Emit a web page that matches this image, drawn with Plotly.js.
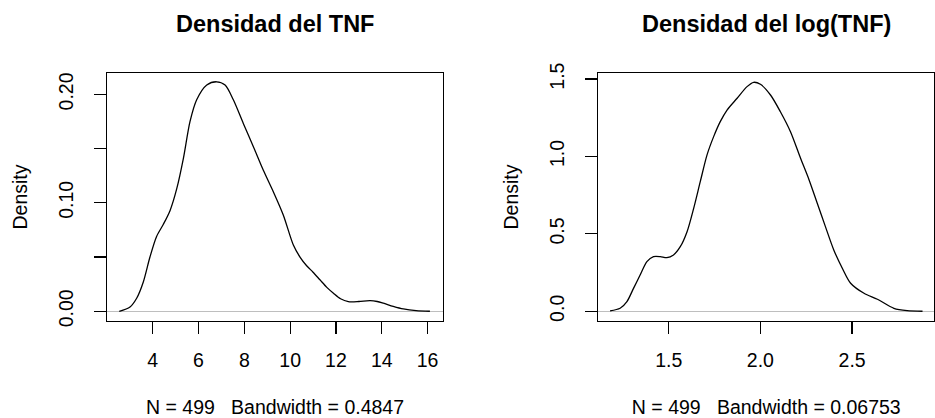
<!DOCTYPE html>
<html>
<head>
<meta charset="utf-8">
<script src="https://cdn.plot.ly/plotly-3.0.1.min.js"></script>
<style>html,body{margin:0;padding:0;background:#fff;}#chart{width:935px;height:418px;}</style>
</head>
<body>
<div id="chart"></div>
<script>
// Panel 1: density of TNF
const tnfX = [2.54, 3.01, 3.30, 3.59, 3.88, 4.17, 4.46, 4.76, 5.05, 5.34, 5.63, 5.92, 6.36, 6.79, 7.16, 7.52, 7.96, 8.39, 8.83, 9.27, 9.70, 10.14, 10.43, 10.72, 11.00, 11.30, 11.60, 11.89, 12.20, 12.54, 13.00, 13.49, 13.80, 14.07, 14.50, 14.94, 15.50, 16.10];
const tnfY = [0.000, 0.004, 0.012, 0.027, 0.050, 0.069, 0.080, 0.093, 0.113, 0.141, 0.175, 0.195, 0.2086, 0.2116, 0.2086, 0.195, 0.173, 0.152, 0.130, 0.110, 0.0888, 0.0611, 0.050, 0.042, 0.036, 0.029, 0.022, 0.0166, 0.0115, 0.0089, 0.0090, 0.0098, 0.0090, 0.0074, 0.0045, 0.0021, 0.0005, 0.000];

// Panel 2: density of log(TNF)
const logX = [1.180, 1.235, 1.272, 1.308, 1.344, 1.381, 1.417, 1.454, 1.490, 1.526, 1.563, 1.600, 1.636, 1.672, 1.709, 1.745, 1.781, 1.818, 1.873, 1.927, 1.963, 2.000, 2.055, 2.109, 2.164, 2.219, 2.265, 2.310, 2.355, 2.400, 2.450, 2.492, 2.565, 2.638, 2.728, 2.800, 2.884];
const logY = [0.002, 0.019, 0.062, 0.148, 0.234, 0.321, 0.353, 0.353, 0.346, 0.364, 0.417, 0.514, 0.665, 0.837, 1.010, 1.128, 1.225, 1.300, 1.376, 1.451, 1.479, 1.466, 1.397, 1.289, 1.160, 0.988, 0.850, 0.698, 0.545, 0.396, 0.270, 0.181, 0.116, 0.0775, 0.019, 0.004, 0.000];

// Ticks and labels
const x1Ticks = [4, 6, 8, 10, 12, 14, 16];
const x1Labels = ["4", "6", "8", "10", "12", "14", "16"];
const y1Ticks = [0, 0.05, 0.10, 0.15, 0.20];
const y1Labels = ["0.00", "", "0.10", "", "0.20"];
const x2Ticks = [1.5, 2.0, 2.5];
const x2Labels = ["1.5", "2.0", "2.5"];
const y2Ticks = [0, 0.5, 1.0, 1.5];
const y2Labels = ["0.0", "0.5", "1.0", "1.5"];

const titles = ["Densidad del TNF", "Densidad del log(TNF)"];
const subs = ["N = 499\u00a0\u00a0\u00a0Bandwidth = 0.4847", "N = 499\u00a0\u00a0\u00a0Bandwidth = 0.06753"];
const yLabel = "Density";

const FONT = "Liberation Sans, Arial, Helvetica, sans-serif";
const fs = 19.5;

const traces = [
  {x: tnfX, y: tnfY, type: "scatter", mode: "lines", xaxis: "x", yaxis: "y",
   line: {color: "#000", width: 1.3, shape: "spline", smoothing: 0.8}, hoverinfo: "skip"},
  {x: logX, y: logY, type: "scatter", mode: "lines", xaxis: "x2", yaxis: "y2",
   line: {color: "#000", width: 1.3, shape: "spline", smoothing: 0.8}, hoverinfo: "skip"}
];

function xax(dom, rng, tv, tt, anchor, sub) {
  return {domain: dom, range: rng, tickmode: "array", tickvals: tv, ticktext: tt,
    ticks: "outside", ticklen: 12, tickwidth: 1.2, tickcolor: "#000", ticklabelstandoff: 10,
    showline: true, mirror: true, linecolor: "#000", linewidth: 1.2,
    showgrid: false, zeroline: false, anchor: anchor, automargin: false,
    tickfont: {family: FONT, size: fs, color: "#000"},
    title: {text: sub, font: {family: FONT, size: fs, color: "#000"}, standoff: 32}};
}
function yax(dom, rng, tv, tt, anchor) {
  return {domain: dom, range: rng, tickmode: "array", tickvals: tv, ticktext: tt,
    ticks: "outside", ticklen: 12, tickwidth: 1.2, tickcolor: "#000", tickangle: -90, ticklabelstandoff: 13,
    showline: true, mirror: true, linecolor: "#000", linewidth: 1.2,
    showgrid: false, zeroline: true, zerolinecolor: "#BEBEBE", zerolinewidth: 1.2,
    anchor: anchor, automargin: false,
    tickfont: {family: FONT, size: fs, color: "#000"},
    title: {text: yLabel, font: {family: FONT, size: fs, color: "#000"}, standoff: 22}};
}

const layout = {
  width: 935, height: 418,
  margin: {l: 0, r: 0, t: 0, b: 0},
  paper_bgcolor: "#fff", plot_bgcolor: "#fff",
  showlegend: false,
  xaxis: xax([0.1148, 0.4735], [2.02, 16.66], x1Ticks, x1Labels, "y", subs[0]),
  yaxis: yax([0.2328, 0.8246], [-0.0087, 0.2194], y1Ticks, y1Labels, "x"),
  xaxis2: xax([0.6399, 0.9992], [1.116, 2.948], x2Ticks, x2Labels, "y2", subs[1]),
  yaxis2: yax([0.2328, 0.8246], [-0.061, 1.537], y2Ticks, y2Labels, "x2"),
  annotations: [
    {text: "<b>" + titles[0] + "</b>", xref: "paper", yref: "paper", x: 275/935, y: 1 - 24/418,
     xanchor: "center", yanchor: "middle", showarrow: false, font: {family: FONT, size: 23.5, color: "#000"}},
    {text: "<b>" + titles[1] + "</b>", xref: "paper", yref: "paper", x: 766.3/935, y: 1 - 24/418,
     xanchor: "center", yanchor: "middle", showarrow: false, font: {family: FONT, size: 23.5, color: "#000"}}
  ]
};

Plotly.newPlot("chart", traces, layout, {displayModeBar: false, staticPlot: true});
</script>
</body>
</html>
